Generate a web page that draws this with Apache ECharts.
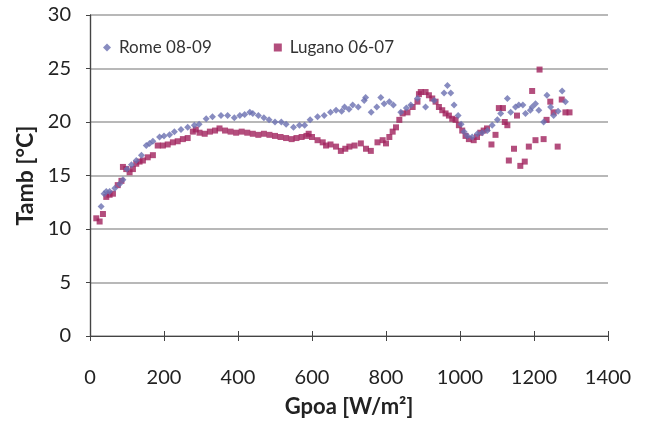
<!DOCTYPE html>
<html><head><meta charset="utf-8">
<script src="https://cdn.jsdelivr.net/npm/echarts@6/dist/echarts.min.js"></script>
<style>html,body{margin:0;padding:0;background:#fff}#c{width:651px;height:427px}</style>
</head><body><div id="c"></div>
<script>
const xTicks = [0, 200, 400, 600, 800, 1000, 1200, 1400];
const yTicks = [0, 5, 10, 15, 20, 25, 30];

const romeG = [30,38,44,53,67,80,89,100,112,125,139,152,161,170,188,200,215,228,246,264,282,295,314,331,354,372,390,405,418,432,440,455,470,484,500,517,530,550,566,580,595,615,633,650,665,680,688,700,710,725,741,745,760,775,786,795,809,820,840,855,867,885,907,930,957,966,975,984,995,1003,1011,1020,1033,1047,1060,1074,1087,1101,1110,1128,1137,1150,1159,1170,1177,1190,1195,1204,1213,1226,1235,1245,1253,1265,1276,1285];
const romeT = [12.1,13.3,13.5,13.5,13.8,14.2,14.6,15.6,16.0,16.4,16.9,17.8,18.0,18.2,18.6,18.7,18.8,19.1,19.3,19.5,19.7,19.8,20.3,20.5,20.6,20.6,20.4,20.6,20.7,20.9,20.8,20.6,20.4,20.2,20.0,20.0,19.8,19.5,19.7,19.7,20.2,20.5,20.6,20.9,21.1,21.0,21.4,21.2,21.6,21.4,22.0,22.3,20.9,21.4,22.3,21.7,21.9,21.6,20.9,21.3,21.6,22.2,21.4,22.0,22.7,23.4,22.7,21.6,20.6,19.8,19.1,18.7,18.6,18.9,19.0,19.2,19.7,20.2,20.8,22.2,20.9,21.4,21.6,21.6,20.8,21.1,21.4,21.7,21.1,20.0,22.5,21.4,20.6,21.0,22.9,21.9];

const luganoG = [17,26,35,44,53,62,75,85,89,98,107,116,125,134,143,156,170,183,197,210,224,237,251,264,278,286,296,310,324,338,350,365,380,395,410,425,440,455,470,485,500,515,530,545,558,572,585,591,600,615,629,638,650,665,678,690,701,715,732,746,759,777,791,800,809,818,827,836,845,858,872,885,889,894,907,916,925,934,943,952,961,970,979,988,997,1006,1015,1024,1037,1046,1055,1064,1073,1085,1096,1105,1116,1121,1128,1132,1146,1154,1163,1175,1186,1195,1204,1215,1226,1234,1244,1253,1264,1275,1285,1296];
const luganoT = [11.0,10.7,11.4,13.0,13.2,13.3,14.1,14.5,15.8,15.6,15.3,15.6,16.1,16.3,16.4,16.7,16.9,17.8,17.8,17.9,18.1,18.2,18.4,18.5,19.1,19.3,19.0,18.9,19.1,19.2,19.4,19.2,19.1,19.0,19.1,19.0,18.9,18.8,18.9,18.8,18.7,18.6,18.5,18.4,18.5,18.6,18.7,18.9,18.6,18.3,18.1,17.8,17.9,17.7,17.3,17.5,17.7,17.8,18.0,17.5,17.3,18.1,18.3,18.0,18.6,19.1,19.5,20.2,20.8,20.9,21.4,21.9,22.6,22.8,22.8,22.5,22.2,21.9,21.4,21.1,20.8,20.6,20.3,20.2,19.7,19.2,18.7,18.4,18.3,18.6,19.0,19.2,19.4,17.9,18.8,21.3,21.3,20.0,19.7,16.4,17.5,20.6,15.9,16.3,17.7,22.9,18.3,24.9,18.4,20.2,21.9,20.9,17.7,22.1,20.9,20.9];

const rome = romeG.map((g, i) => [g, romeT[i]]);
const lugano = luganoG.map((g, i) => [g, luganoT[i]]);

const font = 'Lato, "Open Sans", sans-serif';
const chart = echarts.init(document.getElementById('c'), null, {renderer: 'canvas'});
chart.setOption({
  animation: false,
  backgroundColor: '#fff',
  grid: {left: 90, right: 43, top: 15, bottom: 91, containLabel: false, outerBoundsMode: 'none'},
  legend: {
    left: 98, top: 34, itemGap: 62, itemWidth: 8, itemHeight: 8,
    textStyle: {fontFamily: font, fontSize: 17, color: '#333', padding: [0, 0, 0, 3]},
    data: [{name: 'Rome 08-09', icon: 'diamond'}, {name: 'Lugano 06-07', icon: 'rect'}]
  },
  xAxis: [{
    type: 'value', min: xTicks[0], max: xTicks[xTicks.length - 1], interval: 200,
    name: 'Gpoa [W/m²]', nameLocation: 'middle', nameGap: 60,
    nameTextStyle: {fontFamily: font, fontSize: 22, fontWeight: 'bold', color: '#222'},
    axisLine: {lineStyle: {color: '#444', width: 1.2}},
    axisTick: {inside: true, length: 5, lineStyle: {color: '#444'}},
    axisLabel: {margin: 32, fontFamily: font, fontSize: 20, color: '#222', formatter: v => String(v)},
    splitLine: {show: false}
  }, {
    type: 'value', position: 'top', min: 0, max: 1400, interval: 200,
    axisLine: {show: true, lineStyle: {color: '#444', width: 1.2}},
    axisTick: {inside: true, length: 5, lineStyle: {color: '#444'}},
    axisLabel: {show: false}, splitLine: {show: false}
  }],
  yAxis: [{
    type: 'value', min: yTicks[0], max: yTicks[yTicks.length - 1], interval: 5,
    name: 'Tamb [°C]', nameLocation: 'middle', nameGap: 50, nameRotate: 90,
    nameTextStyle: {fontFamily: font, fontSize: 23, fontWeight: 'bold', color: '#222'},
    axisLine: {show: true, lineStyle: {color: '#444', width: 1.2}},
    axisTick: {show: true, length: 4, lineStyle: {color: '#444'}},
    axisLabel: {margin: 19, fontFamily: font, fontSize: 20, color: '#222'},
    splitLine: {show: true, lineStyle: {color: '#a0a0a0', width: 1.5}}
  }, {
    type: 'value', position: 'right', min: 0, max: 30, interval: 5,
    axisLine: {show: true, lineStyle: {color: '#444', width: 1.2}},
    axisTick: {show: false}, axisLabel: {show: false}, splitLine: {show: false}
  }],
  series: [{
    name: 'Rome 08-09', type: 'scatter', data: rome, symbol: 'diamond', symbolSize: 7,
    itemStyle: {color: '#6a6fb0'}, z: 3
  }, {
    name: 'Lugano 06-07', type: 'scatter', data: lugano, symbol: 'rect', symbolSize: 6,
    itemStyle: {color: '#a0225c'}, z: 2
  }]
});
</script></body></html>
